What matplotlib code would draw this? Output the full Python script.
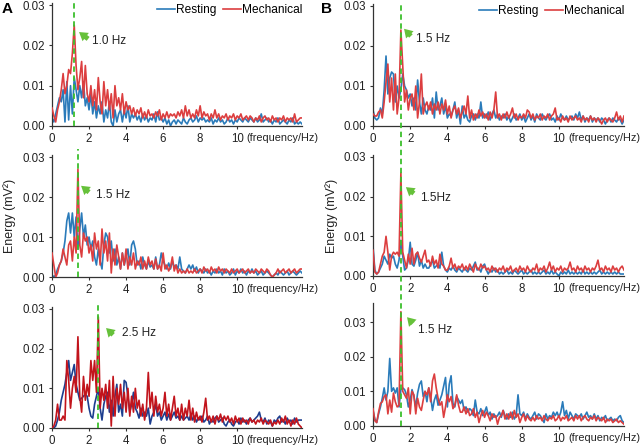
import numpy as np
import matplotlib
matplotlib.use("Agg")
import matplotlib.pyplot as plt
from matplotlib.lines import Line2D
from matplotlib.transforms import blended_transform_factory

plt.rcParams['font.family'] = ['Liberation Sans', 'DejaVu Sans']

# Energy values in units of 1e-3 mV^2, sampled every 0.1 Hz starting at 0 Hz
FREQ_STEP = 0.1
SCALE = 1e-3

# ---- Panel A, row 1 (peak 1.0 Hz) ----
rest_A1 = [2, 1, 3, 5, 7, 6, 9, 1, 11, 1.5,
           10, 3, 12, 9, 6, 10, 7, 11, 5, 7,
           4, 8, 3, 6, 2, 5, 3, 6, 1, 4,
           2, 6, 1, 0, 4, 1, 3, 4, 1, 4,
           2, 5, 1, 3, 2, 3, 1.5, 2.5, 1, 3,
           1.5, 2.5, 1, 2, 1.5, 3, 1, 3.5, 1.5, 2,
           1, 2, 0.5, 1.5, 0, 1, 1.5, 0.5, 1.5, 1,
           0.5, 2, 1, 0.5, 1.5, 2, 1, 1.5, 2.5, 1,
           2, 1.5, 2, 1, 1.5, 1, 2, 0.5, 1.5, 1,
           2, 1, 1.5, 0.5, 1, 2, 1, 1.5, 0.5, 1.5,
           1, 2, 1.5, 1, 2, 1.5, 1, 2, 1.5, 1,
           2, 1, 1.5, 3, 1, 1.5, 2, 1, 1.5, 0.5,
           1.5, 1, 2, 0.5, 1, 1.5, 1, 0.5, 1.5, 1,
           2, 0.5, 1, 0.5, 1, 0.5]
mech_A1 = [4.5, 2.5, 1, 4, 6, 9, 13, 8, 10, 14,
           13, 18, 25, 15, 9, 12, 16, 7, 15, 8,
           6, 10, 5, 9, 4, 12, 6, 3, 11, 5,
           9, 4, 8, 2, 10, 5, 7, 4, 8, 3,
           6, 4, 5, 3, 4.5, 2.5, 4, 3, 4.5, 2,
           3.5, 2, 4, 2.5, 3, 2, 3.5, 2.5, 4, 1.5,
           3, 2, 3.5, 2, 3, 2.5, 3, 2, 3.5, 2.5,
           4, 2, 5, 2.5, 4, 2, 3, 2, 4, 2.5,
           5, 2, 3.5, 2.5, 3, 1.5, 3, 2, 4, 2,
           3, 1.5, 2.5, 2, 3, 1.5, 2.5, 2, 3, 1.5,
           2.5, 2, 3, 1.5, 2, 2.5, 1.5, 2.5, 2, 1,
           2, 1.5, 2.5, 1, 2, 2.5, 1.5, 2, 1, 2.5,
           1.5, 2, 1, 2, 1.5, 2.5, 1, 2, 1.5, 2,
           1, 3, 1, 1.5, 2, 2]

# ---- Panel A, row 2 (peak 1.5 Hz) ----
rest_A2 = [0.5, 0, 0.5, 2, 3, 4, 6, 9, 14, 16,
           11, 16, 10, 15, 7, 12, 16, 10, 13, 8,
           10, 7, 9, 5, 3, 7, 4, 2, 8, 11,
           10, 6, 9, 4, 7, 3, 5, 2, 6, 3,
           5, 7, 3, 8, 9, 7, 3, 4, 2, 5,
           3, 2, 4, 2.5, 3, 2, 5, 2, 3, 6,
           4, 3, 2, 3.5, 2, 4, 2.5, 3, 2, 5,
           2, 1.5, 1, 2, 3, 2, 3, 1.5, 2.5, 1,
           2, 1.5, 1, 2, 1, 1.5, 0.5, 1.5, 1, 2,
           1, 1.5, 0.5, 2, 1, 1.5, 0.5, 1, 2, 0.5,
           1.5, 1, 2, 1, 1.5, 0.5, 1.5, 1, 2, 1,
           1.5, 0.5, 1, 1.5, 0.5, 1, 1.5, 1, 0.5, 0,
           0.5, 1, 0.5, 1.5, 1, 0.5, 1, 1.5, 0.5, 1,
           1.5, 1, 0.5, 1, 1.5, 1]
mech_A2 = [6, 3, 0, 1, 3, 4, 7, 5, 3, 8,
           9, 4, 10, 6, 27, 8, 5, 11, 9, 10,
           6, 8, 4, 11, 7, 9, 3, 12, 6, 9,
           4, 11, 1, 7, 3, 8, 5, 2, 6, 3,
           7, 2, 5, 3, 6, 2, 4, 3, 5, 2,
           4, 2, 5, 3, 4, 2, 4.5, 2, 3, 1.5,
           6, 2, 3, 1.5, 2.5, 5, 1.5, 3, 1, 2,
           1, 1.5, 1, 2, 1, 1.5, 1, 2, 1, 1.5,
           2, 1, 2.5, 1.5, 2, 1, 2.5, 1.5, 2, 1,
           2.5, 1.5, 2, 1, 2, 1.5, 1, 2, 1, 1.5,
           2, 1, 1.5, 2, 1, 1.5, 2, 1, 1.5, 1,
           2, 1.5, 1, 2, 1.5, 1, 2, 1.5, 0.5, 0,
           0.5, 1, 2, 1, 1.5, 2, 1, 1.5, 2, 1,
           1.5, 2, 1, 1.5, 2, 2]

# ---- Panel A, row 3 (peak 2.5 Hz) ----
rest_A3 = [0, 0, 0.5, 2, 4, 7, 9, 11, 14, 17,
           12, 14, 16, 11, 9, 7, 7.5, 8, 8.5, 8,
           5, 3, 2.5, 6, 8, 10, 5, 2, 6, 8,
           9, 4, 7, 3, 8, 11, 4, 6, 3, 12,
           11.5, 8, 4, 6, 9, 5, 4, 2.5, 5, 3,
           4, 3, 5, 1, 3, 4, 6, 3, 4, 2,
           3, 4, 2, 3.5, 2, 3, 4, 2.5, 3, 2,
           3, 2, 2.5, 3, 2, 3.5, 2, 3, 1.5, 2.5,
           2, 3, 1.5, 2, 3, 1, 2, 1.5, 2.5, 3,
           1.5, 2, 2.5, 1, 0.5, 1.5, 2, 1, 0.5, 1.5,
           2, 1, 2.5, 1.5, 2, 1, 2, 2.5, 1.5, 2,
           2.5, 3, 4, 2, 1.5, 2.5, 1, 2, 1.5, 0.5,
           2, 1.5, 2.5, 3, 1.5, 2, 1, 2.5, 1.5, 2,
           1, 2.5, 1.5, 2, 2, 2]
mech_A3 = [0, 0.5, 2, 6, 2, 2, 3, 2, 17, 12,
           5, 10, 13, 9, 23, 8, 4, 13, 7, 11,
           8, 17, 12, 17, 9, 28, 5, 10, 7, 11,
           5, 12, 0.5, 13, 3, 10, 6, 11, 5, 9,
           4, 10, 3, 8, 4, 10, 5, 7, 3, 6,
           2, 5, 14, 5, 9, 3, 8, 4, 6, 3,
           5, 9, 3, 6, 2, 5, 8, 3, 5, 2,
           6, 2, 5, 3, 7, 2, 5, 1.5, 4, 2,
           3, 1.5, 4, 7.5, 2, 3, 1.5, 3, 1, 3,
           2, 3.5, 1.5, 3, 2, 3, 1.5, 2.5, 1, 3,
           1.5, 2.5, 1, 2.5, 1.5, 2, 1, 2.5, 1.5, 2,
           1, 2, 1.5, 2.5, 1, 2, 1.5, 1, 2, 0.5,
           1.5, 1, 2, 1, 2.5, 1.5, 3, 1, 2, 0.5,
           2, 1, 2.5, 1, 0.5, 0]

# ---- Panel B, row 1 (peak 1.5 Hz) ----
rest_B1 = [4, 2, 1.5, 2, 4.5, 3, 9, 17.5, 8, 12,
           13.5, 13, 6, 10, 7, 9, 13, 10, 9, 7,
           8, 5, 7, 4, 11.5, 6, 3, 7, 4, 3,
           5, 4, 7, 2, 8.5, 4, 5, 7, 3, 5,
           2, 3, 2.5, 4, 6, 2, 4, 0.5, 5, 2,
           3, 1.5, 1, 2.5, 3, 1.5, 3, 2, 6, 2,
           3, 2, 3.5, 1.5, 3, 4, 2, 3, 1.5, 2.5,
           2, 3, 1.5, 2.5, 1, 2, 3, 1.5, 2, 3,
           1.5, 2.5, 1, 2, 3, 1.5, 2.5, 1, 3, 2,
           1.5, 3, 2, 1.5, 2.5, 3, 1.5, 2, 1, 2.5,
           1.5, 3, 2, 1.5, 2.5, 1.5, 2, 2.5, 1.5, 3,
           2, 3.5, 1.5, 2.5, 1, 2, 1.5, 2.5, 1, 2,
           1.5, 2, 1, 2, 1.5, 0.5, 1.5, 2, 1, 2,
           1.5, 1, 2, 1.5, 0.5, 1.5]
mech_B1 = [3, 2.5, 2.5, 3.5, 4, 2, 6, 11, 15.5, 6,
           12, 4, 13, 3, 7, 24, 15, 6, 9, 4,
           7, 8, 4, 10, 2, 6, 13, 3, 5, 6,
           4, 6, 3, 5.5, 4, 6, 3, 5.5, 4, 6.5,
           3, 5, 2, 4, 5, 3, 4.5, 2, 3.5, 5,
           3, 7.5, 2, 4, 1.5, 3, 2, 4, 2.5, 3.5,
           2, 3, 1.5, 3.5, 2, 4, 8.5, 2, 3, 1.5,
           3, 2, 3.5, 2, 3, 4.5, 2, 3, 1.5, 2.5,
           2, 3, 2, 4, 3.5, 2, 3, 1.5, 2.5, 2,
           3, 1.5, 2.5, 2, 3, 1.5, 2.5, 3, 4.5, 1.5,
           2, 1, 2.5, 1.5, 2, 1, 2.5, 1.5, 2, 2.5,
           1.5, 2, 1, 2.5, 1.5, 2, 1, 2.5, 1.5, 2,
           1, 2, 1.5, 0.5, 1.5, 2, 1, 2, 1.5, 1,
           2, 3.5, 1.5, 2.5, 1, 2.5]

# ---- Panel B, row 2 (peak 1.5 Hz) ----
rest_B2 = [7.5, 1.5, 0.5, 1, 2, 3, 5, 4, 3, 5.5,
           4.5, 5, 3, 2, 4, 9, 5, 1.5, 2, 4,
           8.5, 3, 2.5, 4, 6, 2.5, 4, 2, 3, 2,
           2, 3, 4, 2, 2.5, 3, 2, 6, 2.5, 1.5,
           1, 2, 1.5, 2.5, 1.5, 1, 2, 1.5, 1, 2,
           1.5, 1, 2, 1.5, 2.5, 3.5, 1.5, 2, 1, 2.5,
           3, 1.5, 0.5, 1.5, 1, 2, 1, 1.5, 0.5, 1,
           0.5, 1, 1.5, 0.5, 1, 0.5, 1.5, 1, 0.5, 1,
           1.5, 0.5, 1, 0.5, 1, 1.5, 0.5, 1, 0.5, 1,
           0.5, 1, 1.5, 0.5, 1, 0.5, 1.5, 0.5, 1, 0.5,
           0, 1, 0.5, 1, 0.5, 1.5, 0.5, 1, 0.5, 1,
           0.5, 1, 0.5, 1.5, 0.5, 1, 0.5, 1, 0.5, 1,
           0.5, 1, 1.5, 0.5, 1, 0.5, 1, 0.5, 1, 0.5,
           1, 0.5, 1, 0.5, 0.5, 0.5]
mech_B2 = [6.5, 1, 0.5, 1, 3, 5, 6, 10, 6, 1.5,
           5, 6, 5.5, 6, 5, 26, 6, 4, 2, 5.5,
           3, 7, 3, 5.5, 6, 4.5, 3.5, 5, 6.5, 3.5,
           4, 2.5, 5, 3, 4, 2, 5.5, 3, 2.5, 1.5,
           1.5, 2.5, 4.5, 2, 3, 1.5, 2.5, 2, 3, 1.5,
           2.5, 1.5, 3, 2, 1, 3, 2, 1.5, 3, 2,
           2.5, 1.5, 2, 1, 2.5, 1.5, 2, 1, 2, 1.5,
           2.5, 1, 2, 1.5, 2.5, 1, 1.5, 2, 1, 2.5,
           1.5, 2, 1, 2.5, 1.5, 1, 2, 1.5, 3, 1,
           2, 1.5, 2.5, 1, 2, 3.5, 1.5, 2.5, 1, 2,
           1.5, 2.5, 1, 2, 1.5, 2, 3.5, 1.5, 2, 1,
           2.5, 1.5, 2, 1, 2.5, 1.5, 2, 1, 2, 1.5,
           2.5, 4, 1.5, 2, 1, 2.5, 1.5, 2, 1, 2.5,
           1.5, 2, 1, 2, 2.5, 1.5]

# ---- Panel B, row 3 (peak 1.5 Hz) ----
rest_B3 = [4.5, 2, 1, 3.5, 5.5, 8, 11, 7.5, 10, 19.5,
           10, 11, 9.5, 11, 5.5, 10.5, 11, 10.5, 9, 5.5,
           7.5, 10.5, 8.5, 5.5, 9.5, 12, 13, 8.5, 10, 7,
           11, 8.5, 4.5, 7.5, 9, 6, 7.5, 9, 11.5, 14,
           5.5, 12, 14.5, 6.5, 5.5, 8.5, 7.5, 6.5, 7.5, 4.5,
           5.5, 4, 5, 4.5, 3, 7.5, 4, 3.5, 5, 3,
           4, 5.5, 3, 4, 2, 3.5, 2.5, 3, 4, 2.5,
           4.5, 3, 2, 3.5, 2.5, 4, 2, 3, 9, 3.5,
           3, 4, 2, 3.5, 2.5, 2, 3, 4, 2, 3.5,
           3, 2, 1, 3.5, 2, 3, 2.5, 4, 3, 4,
           2.5, 4, 7, 3, 4.5, 2, 4, 3, 2, 3.5,
           3, 2.5, 3.5, 2, 3, 4, 2.5, 3, 2, 3.5,
           2, 3, 1.5, 2.5, 2, 3, 1.5, 2, 2.5, 1.5,
           2, 1.5, 2.5, 3, 1.5, 1]
mech_B3 = [5, 1.5, 1, 4, 6.5, 7, 8.5, 9, 3.5, 7.5,
           4, 9.5, 7, 5.5, 6, 33, 10, 9, 8, 11,
           3.5, 10, 9, 3.5, 8, 5.5, 4.5, 7.5, 10, 9,
           11, 7, 13, 15, 11, 8, 6, 7, 2.5, 5.5,
           9, 7, 8.5, 5, 6, 9, 6, 4, 4, 5.5,
           3.5, 5, 3, 3.5, 5, 2.5, 4, 1, 3, 4.5,
           2.5, 4, 3, 1.5, 3.5, 2.5, 3, 0.5, 2.5, 3,
           4.5, 2, 3.5, 2, 4, 2, 4.5, 2.5, 3.5, 1,
           2.5, 3.5, 1.5, 3, 2, 1.5, 2.5, 1.5, 3, 2,
           2.5, 1.5, 3, 2, 1.5, 2.5, 2, 3, 1.5, 2,
           3, 1.5, 2.5, 2, 3, 1.5, 2, 2.5, 1.5, 3,
           2, 3, 1.5, 2.5, 3, 2, 1.5, 2.5, 2, 3,
           1.5, 2.5, 2, 1.5, 2.5, 1, 2, 1.5, 2, 1,
           1.5, 2, 1, 1.5, 1, 0.5]

peak_labels = ["1.0 Hz", "1.5 Hz", "2.5 Hz", "1.5 Hz", "1.5Hz", "1.5 Hz"]
peak_freqs = [1.2, 1.4, 2.5, 1.5, 1.5, 1.5]
xticks = [0, 2, 4, 6, 8, 10]
yticks = [0.00, 0.01, 0.02, 0.03]
series_names = ["Resting", "Mechanical"]

BLUE = "#2a7bba"
RED = "#dc3e3f"
NAVY = "#1d3e8f"
DRED = "#c2141c"
GREEN = "#3cbf2c"
ARROW_GREEN = "#66c13a"

W, H = 640, 447
fig = plt.figure(figsize=(6.4, 4.47), dpi=100)


def add_ax(l, r, t, b):
    return fig.add_axes([l / W, 1 - b / H, (r - l) / W, (b - t) / H])


panels = [
    # rest, mech, colors, (l,r,t,b), ytop, arrow tip, arrow tail, text pos, vline ymax
    (rest_A1, mech_A1, (BLUE, RED), (52, 302, 3, 126), 0.0305, (1.46, 23.3), (1.95, 21.6), (2.16, 21.0), 1.01),
    (rest_A2, mech_A2, (BLUE, RED), (52, 302, 155, 277), 0.0305, (1.57, 22.8), (2.0, 21.2), (2.38, 20.6), 1.05),
    (rest_A3, mech_A3, (NAVY, DRED), (52, 302, 307, 428), 0.0305, (2.92, 25.2), (3.3, 23.5), (3.78, 23.9), 1.02),
    (rest_B1, mech_B1, (BLUE, RED), (373, 624, 4, 126), 0.0305, (1.67, 24.3), (2.04, 22.5), (2.31, 21.8), None),
    (rest_B2, mech_B2, (BLUE, RED), (373, 624, 155, 276), 0.0305, (1.77, 22.4), (2.2, 20.8), (2.53, 19.6), None),
    (rest_B3, mech_B3, (BLUE, RED), (373, 624, 303, 426), 0.0355, (1.83, 31.4), (2.15, 29.6), (2.42, 27.7), None),
]

axes = []
for i, (rest, mech, cols, rect, ytop, tip, tail, tpos, vmax) in enumerate(panels):
    ax = add_ax(*rect)
    axes.append(ax)
    fr = np.arange(len(rest)) * FREQ_STEP
    fm = np.arange(len(mech)) * FREQ_STEP
    ax.plot(fr, np.array(rest) * SCALE, color=cols[0], lw=1.2, label=series_names[0], zorder=2)
    ax.plot(fm, np.array(mech) * SCALE, color=cols[1], lw=1.2, label=series_names[1], zorder=3)
    ax.set_xlim(0, 13.5)
    ax.set_ylim(0, ytop)
    ax.set_xticks(xticks)
    ax.set_xticklabels([str(t) for t in xticks])
    ax.set_yticks(yticks)
    ax.set_yticklabels([f"{t:.2f}" for t in yticks])
    for s in ("top", "right"):
        ax.spines[s].set_visible(False)
    for s in ("left", "bottom"):
        ax.spines[s].set_color("#333333")
        ax.spines[s].set_linewidth(0.9)
    ax.tick_params(direction="out", length=2.2, width=0.8, color="#333333",
                   labelsize=8.3, labelcolor="#222222", pad=2.5)
    ax.annotate("(frequency/Hz)", xy=(10.5, 0), xycoords=ax.get_xaxis_transform(),
                xytext=(0, -4.7), textcoords="offset points", va="top", ha="left",
                fontsize=7.8, color="#222222")
    # green peak marker line
    if vmax is not None:
        ax.axvline(peak_freqs[i], ymin=0, ymax=vmax, color=GREEN, lw=1.3,
                   ls=(0, (3, 2)), zorder=4, clip_on=False)
    ax.annotate("", xy=(tip[0], tip[1] * SCALE), xytext=(tail[0], tail[1] * SCALE),
                arrowprops=dict(arrowstyle="simple,head_length=0.6,head_width=0.75,tail_width=0.35",
                                color=ARROW_GREEN, lw=0, shrinkA=0, shrinkB=0, mutation_scale=10),
                zorder=5)
    ax.text(tpos[0], tpos[1] * SCALE, peak_labels[i], va="center", ha="left",
            fontsize=8.5, color="#222222")
    if i in (1, 4):
        ax.set_ylabel("Energy (mV²)", fontsize=9, color="#222222")
        ax.yaxis.set_label_coords(-0.145 if i == 1 else -0.138, 0.5)
    if i in (0, 3):
        ax.legend(loc="upper right", bbox_to_anchor=(1.0, 0.99), frameon=False, ncol=2,
                  handlelength=1.5, handletextpad=0.05, columnspacing=0.6,
                  borderaxespad=0, borderpad=0, fontsize=8.6)

# single green dashed line running through all B panels
trans = blended_transform_factory(axes[5].transData, fig.transFigure)
fig.add_artist(Line2D([peak_freqs[5], peak_freqs[5]], [1 - 426 / H, 1 - 3 / H],
                      transform=trans, color=GREEN, lw=1.3, ls=(0, (3, 2)), zorder=10))

fig.text(2 / W, 1 - 2 / H, "A", fontsize=11, fontweight="bold", va="top", ha="left")
fig.text(321 / W, 1 - 2 / H, "B", fontsize=11, fontweight="bold", va="top", ha="left")

fig.savefig("out.png", dpi=100)
